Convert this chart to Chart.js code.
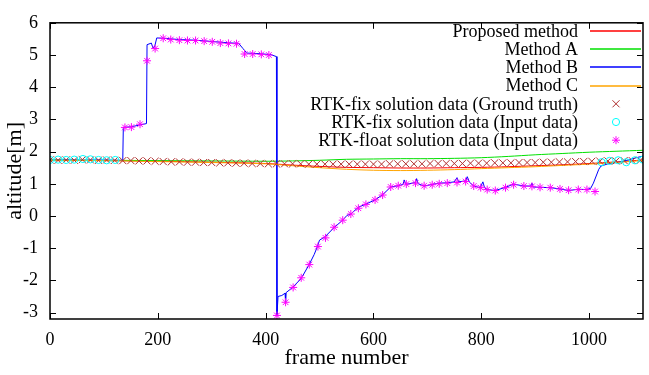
<!DOCTYPE html>
<html>
<head>
<meta charset="utf-8">
<script src="https://cdn.jsdelivr.net/npm/chart.js@4/dist/chart.umd.min.js"></script>
<style>
  html, body { margin: 0; padding: 0; background: #fff; }
  canvas { display: block; }
</style>
</head>
<body>
<canvas id="altChart" width="649" height="375"></canvas>
<script>
// Eixos
const xTicks = [0, 200, 400, 600, 800, 1000];
const yTicks = [-3, -2, -1, 0, 1, 2, 3, 4, 5, 6];

// Linhas suaves (Proposed, A, C)
const lineFrames = [0, 100, 200, 300, 400, 450, 500, 550, 600, 650, 700, 750, 800, 850, 900, 950, 1000, 1050, 1100];
const proposed = [1.73, 1.72, 1.70, 1.67, 1.63, 1.58, 1.54, 1.51, 1.50, 1.49, 1.49, 1.50, 1.51, 1.53, 1.56, 1.59, 1.63, 1.68, 1.74];
const methodA  = [1.74, 1.73, 1.72, 1.71, 1.70, 1.71, 1.73, 1.76, 1.77, 1.78, 1.78, 1.79, 1.81, 1.85, 1.90, 1.94, 1.98, 2.01, 2.04];
const methodC  = [1.73, 1.72, 1.69, 1.66, 1.62, 1.56, 1.50, 1.45, 1.42, 1.41, 1.42, 1.44, 1.47, 1.50, 1.53, 1.57, 1.61, 1.66, 1.72];

// Method B
const methodBFrames = [
  0, 30, 60, 90, 120, 135, 136, 150, 165, 179,
  180, 188, 191, 194, 198, 210, 240, 270, 300, 330,
  350, 358, 365, 390, 410, 420, 421, 423, 430, 436,
  437, 438, 450, 466, 481, 490, 496, 500, 510, 527,
  543, 551, 558, 572, 586, 603, 617, 632, 646, 655,
  657, 660, 678, 680, 683, 694, 709, 721, 737, 750,
  755, 758, 771, 774, 778, 786, 798, 803, 806, 811,
  826, 845, 860, 879, 892, 894, 896, 909, 928, 946,
  962, 980, 996, 1003, 1008, 1018, 1022, 1035, 1055, 1075,
  1090, 1100
];
const methodB = [
  1.73, 1.74, 1.73, 1.74, 1.73, 1.73, 2.75, 2.77, 2.82, 2.87,
  5.32, 5.37, 5.22, 5.25, 5.53, 5.52, 5.48, 5.46, 5.42, 5.38,
  5.36, 5.20, 5.06, 5.04, 5.01, 4.95, -3.08, -2.50, -2.47, -2.40,
  -2.68, -2.38, -2.22, -1.94, -1.50, -1.20, -0.95, -0.75, -0.65, -0.36,
  -0.13, 0.02, 0.06, 0.27, 0.37, 0.50, 0.66, 0.90, 0.94, 0.98,
  1.12, 0.98, 1.04, 1.16, 1.00, 0.93, 0.98, 1.02, 1.03, 1.06,
  1.19, 1.06, 1.09, 1.22, 1.05, 0.93, 0.88, 1.06, 0.88, 0.82,
  0.79, 0.89, 0.99, 0.93, 0.93, 1.02, 0.90, 0.89, 0.88, 0.84,
  0.79, 0.83, 0.82, 0.86, 1.02, 1.45, 1.55, 1.62, 1.67, 1.75,
  1.82, 1.86
];

// RTK-fix (Ground truth)
const gtFrames = [
  0, 15, 30, 45, 60, 75, 90, 105, 120, 135,
  150, 165, 180, 195, 210, 225, 240, 255, 270, 285,
  300, 315, 330, 345, 360, 375, 390, 405, 420, 435,
  450, 465, 480, 495, 510, 525, 540, 555, 570, 585,
  600, 615, 630, 645, 660, 675, 690, 705, 720, 735,
  750, 765, 780, 795, 810, 825, 840, 855, 870, 885,
  900, 915, 930, 945, 960, 975, 990, 1005, 1020, 1035,
  1050, 1065, 1080, 1095
];
const groundTruth = [
  1.74, 1.73, 1.74, 1.73, 1.75, 1.74, 1.73, 1.74, 1.73, 1.72,
  1.72, 1.71, 1.71, 1.70, 1.69, 1.68, 1.68, 1.67, 1.67, 1.66,
  1.66, 1.65, 1.65, 1.64, 1.64, 1.63, 1.63, 1.62, 1.62, 1.62,
  1.62, 1.62, 1.61, 1.61, 1.61, 1.61, 1.61, 1.61, 1.61, 1.61,
  1.61, 1.61, 1.62, 1.62, 1.62, 1.62, 1.62, 1.63, 1.63, 1.63,
  1.63, 1.63, 1.64, 1.64, 1.64, 1.65, 1.65, 1.65, 1.66, 1.66,
  1.66, 1.67, 1.67, 1.68, 1.68, 1.69, 1.69, 1.70, 1.70, 1.71,
  1.71, 1.72, 1.72, 1.73
];

// RTK-fix (Input data)
const fixFrames = [0, 15, 30, 45, 61, 75, 90, 105, 121, 1023, 1038, 1054, 1069, 1085, 1100];
const fixInput  = [1.74, 1.75, 1.74, 1.75, 1.77, 1.76, 1.74, 1.73, 1.74, 1.67, 1.71, 1.73, 1.67, 1.73, 1.75];

// RTK-float (Input data)
const floatFrames = [
  139, 151, 167, 180, 195, 210, 224, 240, 255, 270,
  286, 301, 316, 331, 346, 361, 376, 392, 406,
  421, 437, 451, 466, 481, 497, 511, 527, 543, 558,
  572, 586, 603, 617, 632, 646, 661, 678, 694, 709,
  722, 737, 755, 771, 786, 799, 811, 826, 845, 860,
  879, 894, 909, 928, 946, 962, 980, 996, 1011
];
const floatInput = [
  2.75, 2.76, 2.85, 4.82, 5.20, 5.52, 5.48, 5.46, 5.45, 5.45,
  5.43, 5.41, 5.37, 5.36, 5.35, 5.03, 5.03, 5.02, 5.00,
  -3.09, -2.68, -2.22, -1.92, -1.51, -0.95, -0.68, -0.35, -0.13, 0.06,
  0.24, 0.36, 0.50, 0.65, 0.90, 0.94, 0.99, 1.02, 0.94, 0.97,
  1.00, 1.02, 1.04, 1.07, 0.93, 0.88, 0.82, 0.79, 0.88, 0.97,
  0.93, 0.92, 0.89, 0.88, 0.84, 0.80, 0.82, 0.82, 0.76
];

const legendLabels = [
  'Proposed method', 'Method A', 'Method B', 'Method C',
  'RTK-fix solution data (Ground truth)',
  'RTK-fix solution data (Input data)',
  'RTK-float solution data (Input data)'
];

const COLORS = {
  red: '#ff0000',
  green: '#00e000',
  blue: '#0000ff',
  orange: '#ffa500',
  brown: '#b03030',
  cyan: '#00ffff',
  magenta: '#ff00ff'
};

const SERIF = '"Liberation Serif", "Times New Roman", serif';

const pts = (xs, ys) => xs.map((x, i) => ({ x: x, y: ys[i] }));

function lineSet(label, xs, ys, color, order, tension) {
  return {
    label: label,
    data: pts(xs, ys),
    showLine: true,
    borderColor: color,
    backgroundColor: color,
    borderWidth: 1,
    pointRadius: 0,
    tension: tension,
    order: order
  };
}

function pointSet(label, xs, ys, color, style, radius, order) {
  return {
    label: label,
    data: pts(xs, ys),
    showLine: false,
    pointStyle: style,
    pointRadius: radius,
    pointBorderColor: color,
    pointBackgroundColor: 'rgba(0,0,0,0)',
    pointBorderWidth: 1,
    borderColor: color,
    order: order
  };
}

// Moldura + marcas de escala para dentro (estilo gnuplot)
const frameTicks = {
  id: 'frameTicks',
  afterDraw(chart) {
    const { ctx, chartArea: a, scales } = chart;
    const len = 6;
    ctx.save();
    ctx.strokeStyle = '#000';
    ctx.lineWidth = 1;
    ctx.beginPath();
    xTicks.forEach(v => {
      const px = Math.round(scales.x.getPixelForValue(v)) + 0.5;
      ctx.moveTo(px, a.bottom); ctx.lineTo(px, a.bottom - len);
      ctx.moveTo(px, a.top); ctx.lineTo(px, a.top + len);
    });
    yTicks.forEach(v => {
      const py = Math.round(scales.y.getPixelForValue(v)) + 0.5;
      ctx.moveTo(a.left, py); ctx.lineTo(a.left + len, py);
      ctx.moveTo(a.right, py); ctx.lineTo(a.right - len, py);
    });
    ctx.stroke();
    ctx.lineWidth = 1.5;
    ctx.strokeRect(a.left, a.top, a.right - a.left, a.bottom - a.top);
    ctx.restore();
  }
};

// Legenda no canto superior direito (texto à direita, amostra à esquerda)
const gnuLegend = {
  id: 'gnuLegend',
  afterDraw(chart) {
    const ctx = chart.ctx;
    const textRight = 578;
    const sx0 = 590, sx1 = 641, mx = 616;
    const rowY = i => 31 + i * 18.2;
    ctx.save();
    ctx.font = '18px ' + SERIF;
    ctx.textAlign = 'right';
    ctx.textBaseline = 'middle';
    chart.data.datasets.forEach((ds, i) => {
      const y = rowY(i);
      const color = ds.showLine ? ds.borderColor : ds.pointBorderColor;
      ctx.fillStyle = '#000';
      ctx.fillText(legendLabels[i], textRight, y + 1);
      ctx.strokeStyle = color;
      ctx.lineWidth = ds.showLine ? 1.5 : 1;
      ctx.beginPath();
      if (ds.showLine) {
        ctx.moveTo(sx0, Math.round(y));
        ctx.lineTo(sx1, Math.round(y));
      } else if (ds.pointStyle === 'circle') {
        ctx.arc(mx, y, ds.pointRadius, 0, Math.PI * 2);
      } else {
        const r = ds.pointRadius * 0.707;
        ctx.moveTo(mx - r, y - r); ctx.lineTo(mx + r, y + r);
        ctx.moveTo(mx - r, y + r); ctx.lineTo(mx + r, y - r);
        if (ds.pointStyle === 'star') {
          const s = ds.pointRadius;
          ctx.moveTo(mx - s, y); ctx.lineTo(mx + s, y);
          ctx.moveTo(mx, y - s); ctx.lineTo(mx, y + s);
        }
      }
      ctx.stroke();
    });
    ctx.restore();
  }
};

new Chart(document.getElementById('altChart').getContext('2d'), {
  type: 'scatter',
  data: {
    datasets: [
      lineSet('Proposed method', lineFrames, proposed, COLORS.red, 7, 0.3),
      lineSet('Method A', lineFrames, methodA, COLORS.green, 6, 0.3),
      lineSet('Method B', methodBFrames, methodB, COLORS.blue, 5, 0),
      lineSet('Method C', lineFrames, methodC, COLORS.orange, 4, 0.3),
      pointSet('RTK-fix solution data (Ground truth)', gtFrames, groundTruth, COLORS.brown, 'crossRot', 5, 3),
      pointSet('RTK-fix solution data (Input data)', fixFrames, fixInput, COLORS.cyan, 'circle', 3.6, 2),
      pointSet('RTK-float solution data (Input data)', floatFrames, floatInput, COLORS.magenta, 'star', 4, 1)
    ]
  },
  options: {
    responsive: false,
    animation: false,
    layout: { padding: { left: 0, top: 17, right: 4, bottom: 0 } },
    plugins: {
      legend: { display: false },
      tooltip: { enabled: false }
    },
    scales: {
      x: {
        type: 'linear',
        min: 0,
        max: 1100,
        afterBuildTicks: s => { s.ticks = xTicks.map(v => ({ value: v })); },
        afterFit: s => { s.height = 56; },
        grid: { display: false, drawTicks: false },
        border: { display: false },
        ticks: {
          color: '#000',
          padding: 10,
          font: { family: SERIF, size: 18 },
          callback: v => String(v)
        },
        title: {
          display: true,
          text: 'frame number',
          color: '#000',
          font: { family: SERIF, size: 22 },
          padding: { top: 0, bottom: 4 }
        }
      },
      y: {
        type: 'linear',
        min: -3.2,
        max: 6,
        afterBuildTicks: s => { s.ticks = yTicks.map(v => ({ value: v })); },
        afterFit: s => { s.width = 50; },
        grid: { display: false, drawTicks: false },
        border: { display: false },
        ticks: {
          color: '#000',
          padding: 12,
          font: { family: SERIF, size: 18 },
          callback: v => String(v)
        },
        title: {
          display: true,
          text: 'altitude[m]',
          color: '#000',
          font: { family: SERIF, size: 22 },
          padding: { top: 2, bottom: 0 }
        }
      }
    }
  },
  plugins: [frameTicks, gnuLegend]
});
</script>
</body>
</html>
